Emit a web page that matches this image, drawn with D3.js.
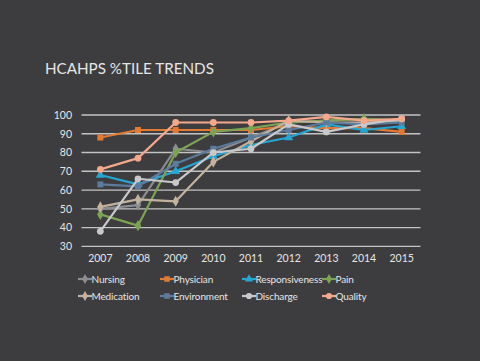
<!DOCTYPE html>
<html><head><meta charset="utf-8">
<script src="https://cdn.jsdelivr.net/npm/d3@7"></script>
<style>html,body{margin:0;padding:0;background:#3d3c3e;}svg{display:block;}</style>
</head><body>
<script>
const years = ["2007","2008","2009","2010","2011","2012","2013","2014","2015"];
const yTicks = [30,40,50,60,70,80,90,100];
const nursing        = [50, 52, 82, 80, 88, 96, 97, 98, 97];
const physician      = [88, 92, 92, 92, 92, 94, 93, 93, 91];
const responsiveness = [68, 63, 70, 78, 84, 88, 95, 92, 94];
const pain           = [47, 41, 80, 91, 93, 96, 97, 98, 97];
const medication     = [51, 55, 54, 75, 86, 97, 96, 96, 97];
const environment    = [63, 62, 74, 82, 88, 92, 96, 95, 96];
const discharge      = [38, 66, 64, 80, 82, 95, 91, 95, 98];
const quality        = [71, 77, 96, 96, 96, 97, 99, 97, 98];
const seriesNames = ["Nursing","Physician","Responsiveness","Pain","Medication","Environment","Discharge","Quality"];

const series = [
  {name:seriesNames[0], values:nursing, color:"#8c8d90", sym:d3.symbolDiamond},
  {name:seriesNames[1], values:physician, color:"#e27a34", sym:d3.symbolSquare},
  {name:seriesNames[2], values:responsiveness, color:"#27a5d3", sym:d3.symbolTriangle},
  {name:seriesNames[3], values:pain, color:"#7da354", sym:d3.symbolDiamond},
  {name:seriesNames[4], values:medication, color:"#c2b29e", sym:d3.symbolDiamond},
  {name:seriesNames[5], values:environment, color:"#5d7b9c", sym:d3.symbolSquare},
  {name:seriesNames[6], values:discharge, color:"#c9c9cb", sym:d3.symbolCircle},
  {name:seriesNames[7], values:quality, color:"#f4a88c", sym:d3.symbolCircle}
];

const W=480,H=361;
const svg=d3.select("body").append("svg").attr("width",W).attr("height",H);
svg.append("rect").attr("width",W).attr("height",H).attr("fill","#3d3c3e");
const font="Lato, 'Open Sans', sans-serif";

svg.append("text").attr("x",45).attr("y",74).attr("fill","#e6e6e6")
  .attr("font-family",font).attr("font-size",15.2)
  .text("HCAHPS %TILE TRENDS");

const x=d3.scaleBand().domain(years).range([81.5,420.5]);
const y=d3.scaleLinear().domain([30,100]).range([246.3,115]);

const grid=svg.append("g");
grid.selectAll("line").data(yTicks).join("line")
  .attr("x1",81.5).attr("x2",420.5)
  .attr("y1",d=>y(d)).attr("y2",d=>y(d))
  .attr("stroke","#c4c4c4").attr("stroke-width",1.3);

const yAxis=svg.append("g").attr("transform","translate(81.5,0)")
  .call(d3.axisLeft(y).tickValues(yTicks).tickSize(0).tickPadding(9.5));
yAxis.select(".domain").remove();
yAxis.selectAll("text").attr("fill","#e6e6e6").attr("font-family",font).attr("font-size",10.5);

const xAxis=svg.append("g").attr("transform","translate(0,252)")
  .call(d3.axisBottom(x).tickSize(0).tickPadding(3));
xAxis.select(".domain").remove();
xAxis.selectAll("text").attr("fill","#e6e6e6").attr("font-family",font).attr("font-size",10.5);

const cx=d=>x(d)+x.bandwidth()/2;
const line=d3.line().x((d,i)=>cx(years[i])).y(d=>y(d));

series.forEach(s=>{
  const g=svg.append("g");
  g.append("path").attr("d",line(s.values)).attr("fill","none")
    .attr("stroke",s.color).attr("stroke-width",2.2).attr("stroke-linejoin","round");
  g.selectAll("path.m").data(s.values).join("path").attr("class","m")
    .attr("transform",(d,i)=>`translate(${cx(years[i])},${y(d)})`)
    .attr("d",d3.symbol().type(s.sym).size(36))
    .attr("fill",s.color);
});

// legend
const legX=[78,160,242,322];
const legY=[279,296];
series.forEach((s,i)=>{
  const gx=legX[i%4], gy=legY[Math.floor(i/4)];
  const g=svg.append("g").attr("transform",`translate(${gx},${gy})`);
  g.append("line").attr("x1",0).attr("x2",14).attr("y1",0).attr("y2",0)
    .attr("stroke",s.color).attr("stroke-width",2.2);
  g.append("path").attr("transform","translate(7,0)")
    .attr("d",d3.symbol().type(s.sym).size(30)).attr("fill",s.color);
  g.append("text").attr("x",13.5).attr("y",0).attr("dy","0.35em")
    .attr("fill","#e6e6e6").attr("font-family",font).attr("font-size",10)
    .attr("letter-spacing",-0.15)
    .text(s.name);
});
</script>
</body></html>
